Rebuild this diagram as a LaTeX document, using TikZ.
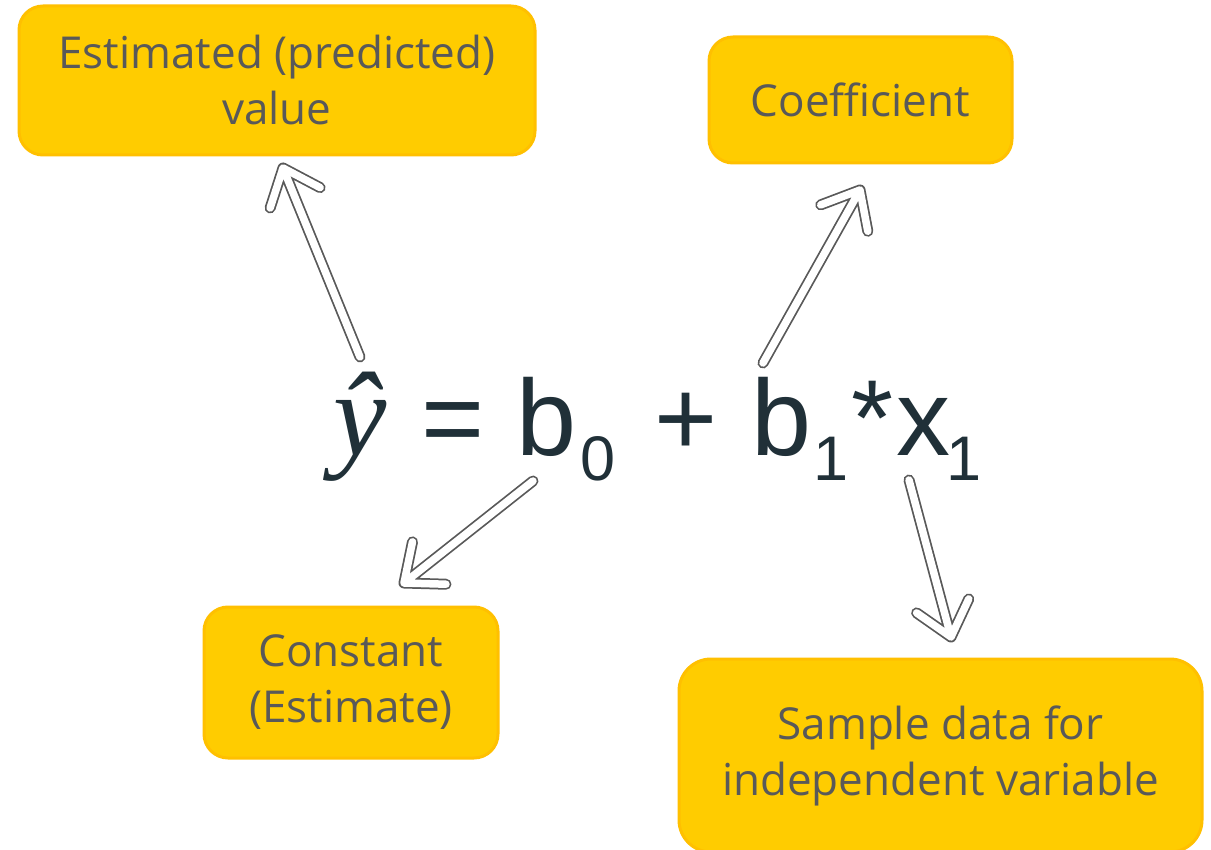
\documentclass[tikz,border=0pt]{standalone}
\usepackage{fontspec}
\setmainfont{Open Sans}
\newfontfamily\eqfont{Liberation Sans}
\newfontfamily\yfont{Liberation Serif}
\usetikzlibrary{calc}
\definecolor{boxfill}{RGB}{255,204,0}
\definecolor{boxdraw}{RGB}{255,192,0}
\definecolor{boxtext}{RGB}{89,89,89}
\definecolor{eqcol}{RGB}{32,48,56}
\definecolor{arrcol}{RGB}{89,89,89}
\tikzset{
  lbl/.style={draw=boxdraw, fill=boxfill, line width=3pt, rounded corners=24pt,
    text=boxtext, align=center, font=\fontsize{44}{56}\selectfont, inner sep=0pt},
  eqpart/.style={inner sep=0pt, anchor=base west, text=eqcol,
    font=\eqfont\fontsize{108}{120}\selectfont},
  eqsub/.style={inner sep=0pt, anchor=base west, text=eqcol,
    font=\eqfont\fontsize{63}{70}\selectfont},
  hollow/.style={draw=arrcol, line width=11pt, line cap=round, line join=round,
    postaction={draw=white, line width=7.5pt}},
}
\newcommand\hollowarrow[2]{\draw[hollow] (#1) -- (#2) ($(#2)!42pt!40:(#1)$) -- (#2) -- ($(#2)!42pt!-40:(#1)$);}
\begin{document}
\begin{tikzpicture}[x=1pt,y=-1pt]
\useasboundingbox[fill=white] (0,0) rectangle (1211,850);
% boxes
\node[lbl, minimum width=516pt, minimum height=149pt] (est) at (277,80.5) {Estimated (predicted)\\value};
\node[lbl, minimum width=303pt, minimum height=126pt] (coef) at (860.5,100) {Coefficient};
\node[lbl, minimum width=294pt, minimum height=151pt] (const) at (351,682.5) {Constant\\(Estimate)};
\node[lbl, minimum width=523pt, minimum height=193pt, rounded corners=32pt] (samp) at (940.5,755.5) {Sample data for\\independent variable};
% equation
\node[eqpart, font=\yfont\itshape\fontsize{120}{130}\selectfont] (yhat) at (333,455) {ŷ};
\node[eqpart] (eq) at (421,455) {=};
\node[eqpart] (bzero) at (516,455) {b};
\node[eqsub] (szero) at (580,480) {0};
\node[eqpart] (plus) at (654,455) {+};
\node[eqpart] (bone) at (751,455) {b};
\node[eqsub] (sone) at (813,480) {1};
\node[eqpart] (star) at (851,455) {*};
\node[eqpart] (xone) at (896,455) {x};
\node[eqsub] (sxone) at (946,480) {1};
% arrows
\coordinate (a1s) at (360,357); \coordinate (a1e) at (283,168);
\coordinate (a2s) at (533,481); \coordinate (a2e) at (404,583);
\coordinate (a3s) at (763,363); \coordinate (a3e) at (860,190);
\coordinate (a4s) at (909,480); \coordinate (a4e) at (951,637);
\hollowarrow{a1s}{a1e}
\hollowarrow{a2s}{a2e}
\hollowarrow{a3s}{a3e}
\hollowarrow{a4s}{a4e}
\end{tikzpicture}
\end{document}
